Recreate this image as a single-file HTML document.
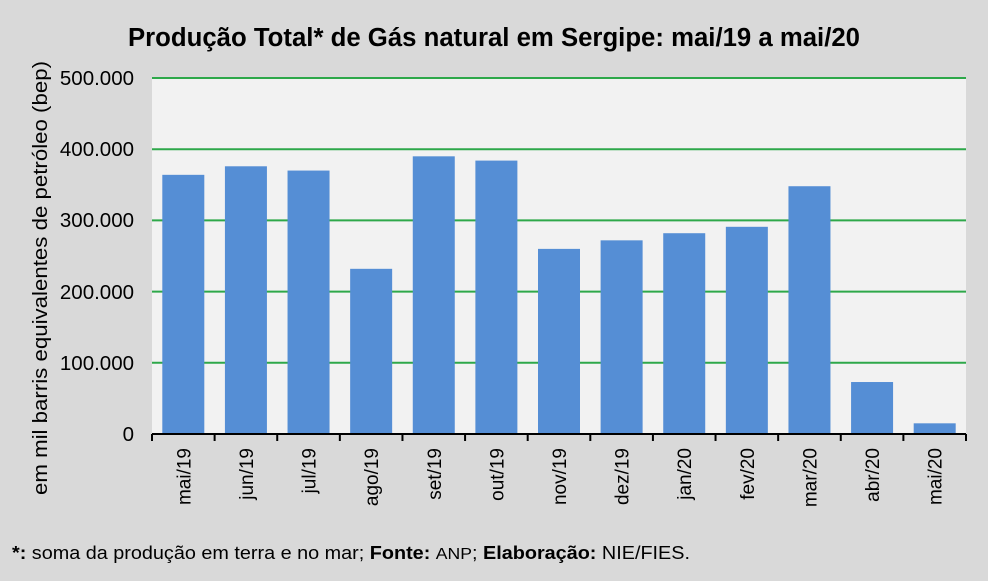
<!DOCTYPE html>
<html><head><meta charset="utf-8"><style>
html,body{margin:0;padding:0;background:#d9d9d9;}
svg{display:block;font-family:"Liberation Sans",sans-serif;}
</style></head><body>
<svg width="988" height="581" viewBox="0 0 988 581" xmlns="http://www.w3.org/2000/svg">
<rect x="0" y="0" width="988" height="581" fill="#d9d9d9"/>
<text x="494" y="46" text-anchor="middle" font-size="25.5" font-weight="bold" fill="#000" textLength="732" lengthAdjust="spacingAndGlyphs">Produção Total* de Gás natural em Sergipe: mai/19 a mai/20</text>
<rect x="152" y="78" width="814" height="356" fill="#f2f2f2"/>
<g stroke="#2ea84a" stroke-width="2">
<line x1="152" y1="78" x2="966" y2="78"/>
<line x1="152" y1="149.2" x2="966" y2="149.2"/>
<line x1="152" y1="220.4" x2="966" y2="220.4"/>
<line x1="152" y1="291.6" x2="966" y2="291.6"/>
<line x1="152" y1="362.8" x2="966" y2="362.8"/>
</g>
<g font-size="20.5" text-anchor="end" fill="#000">
<text x="134" y="85">500.000</text>
<text x="134" y="156">400.000</text>
<text x="134" y="227">300.000</text>
<text x="134" y="299">200.000</text>
<text x="134" y="370">100.000</text>
<text x="134" y="441">0</text>
</g>
<text transform="translate(47,278) rotate(-90)" text-anchor="middle" font-size="20" fill="#000" textLength="434" lengthAdjust="spacingAndGlyphs">em mil barris equivalentes de petróleo (bep)</text>
<g fill="#558ed5" id="bars"></g>
<g stroke="#000" stroke-width="2" id="axis"><line x1="152" y1="434" x2="966" y2="434"/></g>
<g id="labels" font-size="19" text-anchor="end" fill="#000"></g>
<text x="12" y="559" font-size="18" fill="#000" textLength="678" lengthAdjust="spacingAndGlyphs"><tspan font-weight="bold">*:</tspan> soma da produção em terra e no mar; <tspan font-weight="bold">Fonte:</tspan>  <tspan font-size="16">ANP</tspan>; <tspan font-weight="bold">Elaboração:</tspan> NIE/FIES.</text>
<script>
var v=[364,376,370,232,390,384,260,272,282,291,348,73,15];
var l=["mai/19","jun/19","jul/19","ago/19","set/19","out/19","nov/19","dez/19","jan/20","fev/20","mar/20","abr/20","mai/20"];
var ns="http://www.w3.org/2000/svg",w=814/13,b=document.getElementById("bars"),a=document.getElementById("axis"),t=document.getElementById("labels");
for(var i=0;i<13;i++){var c=152+w*i+w/2,h=v[i]*356/500;
var r=document.createElementNS(ns,"rect");r.setAttribute("x",c-21);r.setAttribute("y",434-h);r.setAttribute("width",42);r.setAttribute("height",h);b.appendChild(r);
var k=document.createElementNS(ns,"line");var x=152+w*i;k.setAttribute("x1",x);k.setAttribute("x2",x);k.setAttribute("y1",434);k.setAttribute("y2",441);a.appendChild(k);
var s=document.createElementNS(ns,"text");s.setAttribute("transform","translate("+(c+7)+",448) rotate(-90)");s.textContent=l[i];t.appendChild(s);}
var k=document.createElementNS(ns,"line");k.setAttribute("x1",966);k.setAttribute("x2",966);k.setAttribute("y1",434);k.setAttribute("y2",441);a.appendChild(k);
</script>
</svg>
</body></html>
